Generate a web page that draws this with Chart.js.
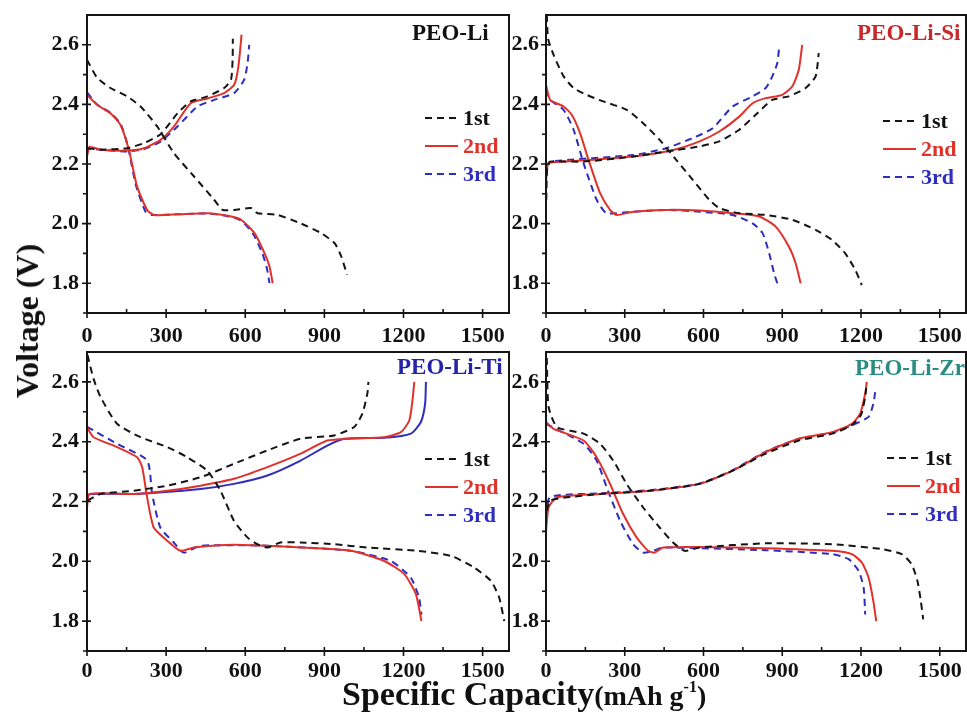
<!DOCTYPE html>
<html>
<head>
<meta charset="utf-8">
<script src="https://cdn.jsdelivr.net/npm/chart.js@4.4.0/dist/chart.umd.min.js"></script>
<style>
  body { margin: 0; background: #fff; }
  #wrap { position: relative; width: 967px; height: 718px; overflow: hidden;
          font-family: "Liberation Serif", "Times New Roman", serif; font-weight: bold; color: #111; }
  canvas { position: absolute; }
  .lbl { position: absolute; white-space: nowrap; line-height: 1; }
</style>
</head>
<body>
<div id="wrap">
  <canvas id="cLi" width="520" height="350" style="left:0;top:0"></canvas>
  <canvas id="cSi" width="467" height="350" style="left:500px;top:0"></canvas>
  <canvas id="cTi" width="520" height="340" style="left:0;top:340px"></canvas>
  <canvas id="cZr" width="467" height="340" style="left:500px;top:340px"></canvas>

  <div class="lbl" style="left:412px;top:21px;font-size:23px;color:#111">PEO-Li</div>
  <div class="lbl" style="left:857px;top:21px;font-size:23px;color:#c8282a">PEO-Li-Si</div>
  <div class="lbl" style="left:397px;top:355px;font-size:23px;color:#2424a8">PEO-Li-Ti</div>
  <div class="lbl" style="left:855px;top:356px;font-size:23px;color:#2a8c82">PEO-Li-Zr</div>

  <div class="lbl" style="left:27px;top:321px;font-size:32px;transform:translate(-50%,-50%) rotate(-90deg)">Voltage (V)</div>
  <div class="lbl" style="left:342px;top:677px;font-size:34px">Specific Capacity<span style="font-size:28px">(mAh g<span style="font-size:16px;position:relative;top:-13px">-1</span>)</span></div>
</div>

<script>
// axes
const capTicks = [0, 300, 600, 900, 1200, 1500];
const capMinor = [150, 450, 750, 1050, 1350];
const voltTicks = [1.8, 2.0, 2.2, 2.4, 2.6];
const voltMinor = [1.7, 1.9, 2.1, 2.3, 2.5];

const cycleLabels = ['1st', '2nd', '3rd'];
const cycleColors = ['#151515', '#e0312b', '#2d2dbf'];

// PEO-Li  [capacity, voltage]
const liDis1 = [[0,2.55],[38,2.49],[89,2.455],[152,2.427],[203,2.393],[266,2.326],[330,2.236],[406,2.158],[482,2.08],[514,2.046],[558,2.046],[622,2.052],[647,2.035],[723,2.029],[812,2.0],[888,1.968],[939,1.934],[964,1.89],[986,1.828]];
const liCha1 = [[2,2.253],[50,2.248],[152,2.253],[216,2.27],[279,2.3],[343,2.37],[393,2.41],[457,2.427],[520,2.455],[546,2.483],[552,2.55],[553,2.62]];
const liDis2 = [[0,2.432],[38,2.399],[89,2.37],[127,2.331],[159,2.247],[190,2.124],[228,2.046],[254,2.029],[343,2.031],[457,2.035],[533,2.026],[584,2.013],[635,1.968],[673,1.901],[692,1.856],[704,1.8]];
const liCha2 = [[0,2.225],[10,2.258],[50,2.248],[152,2.245],[216,2.253],[279,2.281],[330,2.326],[393,2.404],[457,2.42],[520,2.438],[558,2.466],[574,2.527],[586,2.634]];
const liDis3 = [[0,2.44],[38,2.40],[89,2.372],[127,2.335],[155,2.26],[185,2.13],[222,2.04],[245,2.029],[343,2.031],[457,2.034],[533,2.025],[584,2.01],[630,1.965],[665,1.9],[682,1.85],[692,1.8]];
const liCha3 = [[0,2.235],[8,2.25],[152,2.242],[216,2.25],[279,2.275],[343,2.326],[419,2.393],[482,2.415],[558,2.438],[596,2.483],[609,2.54],[615,2.6]];

// PEO-Li-Si
const siDis1 = [[3,2.7],[8,2.62],[29,2.566],[67,2.494],[105,2.455],[155,2.432],[218,2.41],[307,2.382],[370,2.337],[433,2.281],[496,2.214],[559,2.147],[622,2.08],[660,2.052],[736,2.035],[837,2.029],[938,2.013],[1027,1.979],[1090,1.945],[1140,1.9],[1178,1.845],[1203,1.794]];
const siCha1 = [[1,2.08],[5,2.19],[16,2.208],[143,2.208],[332,2.225],[458,2.242],[585,2.259],[660,2.276],[736,2.315],[799,2.365],[862,2.415],[925,2.427],[989,2.455],[1027,2.494],[1039,2.572]];
const siDis2 = [[0,2.466],[16,2.415],[67,2.393],[98,2.365],[130,2.303],[162,2.214],[206,2.102],[244,2.046],[269,2.029],[332,2.04],[458,2.046],[585,2.044],[711,2.035],[812,2.024],[875,1.99],[925,1.923],[951,1.867],[970,1.8]];
const siCha2 = [[0,2.14],[3,2.17],[10,2.203],[80,2.208],[332,2.225],[484,2.247],[585,2.276],[660,2.309],[736,2.359],[787,2.404],[837,2.421],[900,2.432],[938,2.46],[963,2.516],[976,2.6]];
const siDis3 = [[0,2.449],[16,2.415],[67,2.382],[105,2.315],[143,2.203],[193,2.08],[231,2.035],[332,2.04],[458,2.046],[585,2.04],[711,2.029],[787,2.001],[825,1.968],[850,1.901],[869,1.833],[881,1.8]];
const siCha3 = [[0,2.19],[16,2.208],[332,2.23],[458,2.253],[559,2.287],[635,2.32],[711,2.393],[787,2.427],[837,2.455],[862,2.494],[881,2.538],[888,2.589]];

// PEO-Li-Ti
const tiDis1 = [[2,2.69],[25,2.61],[51,2.55],[114,2.46],[203,2.415],[304,2.382],[380,2.348],[456,2.303],[506,2.236],[557,2.136],[608,2.08],[646,2.057],[684,2.046],[734,2.063],[810,2.063],[937,2.057],[1063,2.046],[1253,2.035],[1380,2.018],[1468,1.979],[1532,1.934],[1563,1.878],[1582,1.8]];
const tiCha1 = [[2,2.203],[51,2.225],[177,2.236],[304,2.253],[430,2.281],[557,2.326],[684,2.371],[810,2.41],[937,2.421],[1013,2.449],[1044,2.494],[1063,2.561],[1067,2.6]];
const tiDis2 = [[0,2.449],[25,2.415],[114,2.382],[190,2.348],[209,2.315],[228,2.214],[253,2.113],[304,2.069],[354,2.035],[405,2.046],[557,2.055],[810,2.046],[1000,2.035],[1127,2.001],[1203,1.957],[1247,1.89],[1268,1.8]];
const tiCha2 = [[0,2.18],[10,2.225],[177,2.225],[304,2.236],[430,2.253],[557,2.276],[684,2.315],[810,2.36],[911,2.404],[1000,2.41],[1127,2.415],[1190,2.432],[1222,2.471],[1234,2.538],[1241,2.6]];
const tiDis3 = [[0,2.45],[114,2.393],[228,2.337],[247,2.225],[278,2.113],[329,2.063],[367,2.029],[430,2.052],[684,2.052],[1000,2.035],[1152,2.001],[1228,1.945],[1259,1.878],[1268,1.822]];
const tiCha3 = [[0,2.203],[10,2.225],[177,2.225],[430,2.242],[557,2.259],[684,2.287],[810,2.337],[911,2.387],[975,2.41],[1127,2.413],[1228,2.427],[1266,2.466],[1282,2.527],[1285,2.6]];

// PEO-Li-Zr
const zrDis1 = [[3,2.68],[10,2.516],[42,2.449],[143,2.427],[206,2.393],[256,2.337],[307,2.259],[370,2.18],[433,2.113],[484,2.063],[528,2.035],[585,2.046],[837,2.06],[1090,2.057],[1279,2.041],[1355,2.024],[1393,1.99],[1415,1.934],[1428,1.867],[1437,1.806]];
const zrCha1 = [[3,2.17],[16,2.203],[80,2.214],[206,2.225],[395,2.236],[585,2.259],[711,2.303],[837,2.36],[963,2.404],[1090,2.427],[1165,2.455],[1200,2.49],[1216,2.55],[1220,2.58]];
const zrDis2 = [[0,2.466],[29,2.443],[143,2.404],[193,2.348],[244,2.259],[294,2.158],[345,2.08],[389,2.035],[414,2.029],[446,2.046],[585,2.048],[837,2.044],[1090,2.035],[1165,2.024],[1203,1.996],[1229,1.945],[1247,1.867],[1258,1.8]];
const zrCha2 = [[0,2.1],[10,2.18],[42,2.214],[206,2.225],[395,2.236],[585,2.259],[711,2.303],[837,2.365],[963,2.41],[1090,2.432],[1165,2.46],[1197,2.494],[1216,2.561],[1222,2.6]];
const zrDis3 = [[0,2.46],[143,2.393],[193,2.337],[231,2.248],[282,2.136],[332,2.057],[370,2.029],[408,2.035],[446,2.046],[837,2.037],[1090,2.024],[1153,2.007],[1191,1.968],[1210,1.912],[1216,1.822]];
const zrCha3 = [[0,2.15],[16,2.215],[206,2.227],[395,2.238],[585,2.26],[711,2.305],[837,2.367],[963,2.41],[1090,2.43],[1165,2.455],[1229,2.483],[1247,2.527],[1254,2.566]];

const DASH = [7, 5];
const FONT = "'Liberation Serif', 'Times New Roman', serif";

// box, tick marks and the little legend
const framePlugin = {
  id: 'frame',
  afterDatasetsDraw(chart, args, o) {
    const ctx = chart.ctx;
    const a = chart.chartArea;
    const x = chart.scales.x;
    const y = chart.scales.y;

    ctx.save();
    ctx.strokeStyle = '#151515';
    ctx.lineWidth = 2;
    ctx.strokeRect(a.left, a.top, a.right - a.left, a.bottom - a.top);

    ctx.lineWidth = 1.6;
    ctx.beginPath();
    capTicks.forEach(v => {
      const px = x.getPixelForValue(v);
      ctx.moveTo(px, a.bottom - 4); ctx.lineTo(px, a.bottom + 5);
    });
    capMinor.forEach(v => {
      const px = x.getPixelForValue(v);
      ctx.moveTo(px, a.bottom - 4); ctx.lineTo(px, a.bottom);
    });
    voltTicks.forEach(v => {
      const py = y.getPixelForValue(v);
      ctx.moveTo(a.left - 5, py); ctx.lineTo(a.left + 4, py);
    });
    voltMinor.forEach(v => {
      const py = y.getPixelForValue(v);
      ctx.moveTo(a.left - 4, py); ctx.lineTo(a.left, py);
    });
    ctx.stroke();

    // legend
    ctx.font = 'bold 22px ' + FONT;
    ctx.textBaseline = 'middle';
    cycleLabels.forEach((lab, i) => {
      const ly = a.top + o.y + i * 28;
      const lx = a.left + o.x;
      ctx.strokeStyle = cycleColors[i];
      ctx.lineWidth = 2;
      ctx.setLineDash(i === 1 ? [] : DASH);
      ctx.beginPath();
      ctx.moveTo(lx, ly); ctx.lineTo(lx + 33, ly);
      ctx.stroke();
      ctx.setLineDash([]);
      ctx.fillStyle = i === 0 ? '#111' : cycleColors[i];
      ctx.fillText(lab, lx + 38, ly + 1);
    });
    ctx.restore();
  }
};

function noPad(s){
  s.paddingTop = 0;
  s.paddingBottom = 0;
  s.paddingLeft = 0;
  s.paddingRight = 0;
}

function loadPanel(id, dis, cha, cfg){

  const datasets = [];

  for (let i = 0; i < 3; i++) {
    const chaDash = (i === 1 || (cfg.solid3 && i === 2)) ? [] : DASH;
    datasets.push({
      data: dis[i],
      borderColor: cycleColors[i],
      borderDash: i === 1 ? [] : DASH
    });
    datasets.push({
      data: cha[i],
      borderColor: cycleColors[i],
      borderDash: chaDash
    });
  }

  new Chart(document.getElementById(id), {

    type: 'line',

    data: { datasets },

    options: {
      responsive: false,
      animation: false,
      events: [],
      layout: { padding: { left: 0, top: cfg.top, right: cfg.right, bottom: 0 } },
      elements: {
        point: { radius: 0 },
        line: { borderWidth: 2, tension: 0.2, fill: false }
      },
      plugins: {
        legend: { display: false },
        tooltip: { enabled: false },
        frame: { x: cfg.legX, y: cfg.legY }
      },
      scales: {
        x: {
          type: 'linear',
          min: 0,
          max: 1600,
          grid: { display: false, drawTicks: false },
          border: { display: false },
          ticks: {
            autoSkip: false,
            maxRotation: 0,
            padding: cfg.xPad,
            color: '#111',
            font: { family: FONT, size: 22, weight: 'bold' },
            callback: v => String(v)
          },
          afterBuildTicks: s => { s.ticks = capTicks.map(v => ({ value: v })); },
          afterFit: s => { s.height = cfg.xH; noPad(s); }
        },
        y: {
          type: 'linear',
          min: 1.7,
          max: 2.7,
          grid: { display: false, drawTicks: false },
          border: { display: false },
          ticks: {
            autoSkip: false,
            padding: cfg.yPad,
            color: '#111',
            font: { family: FONT, size: 22, weight: 'bold' },
            callback: v => v.toFixed(1)
          },
          afterBuildTicks: s => { s.ticks = voltTicks.map(v => ({ value: v })); },
          afterFit: s => { s.width = cfg.yW; noPad(s); }
        }
      }
    },

    plugins: [framePlugin]

  });

}

loadPanel('cLi', [liDis1, liDis2, liDis3], [liCha1, liCha2, liCha3],
  { top: 15, right: 11, yW: 87, xH: 37, xPad: 10, yPad: 8, legX: 338, legY: 103 });
loadPanel('cSi', [siDis1, siDis2, siDis3], [siCha1, siCha2, siCha3],
  { top: 15, right: 1, yW: 46, xH: 37, xPad: 10, yPad: 7, legX: 337, legY: 106 });
loadPanel('cTi', [tiDis1, tiDis2, tiDis3], [tiCha1, tiCha2, tiCha3],
  { top: 12, right: 11, yW: 87, xH: 29, xPad: 7, yPad: 8, legX: 338, legY: 107, solid3: true });
loadPanel('cZr', [zrDis1, zrDis2, zrDis3], [zrCha1, zrCha2, zrCha3],
  { top: 12, right: 1, yW: 46, xH: 29, xPad: 7, yPad: 7, legX: 341, legY: 106 });
</script>
</body>
</html>
